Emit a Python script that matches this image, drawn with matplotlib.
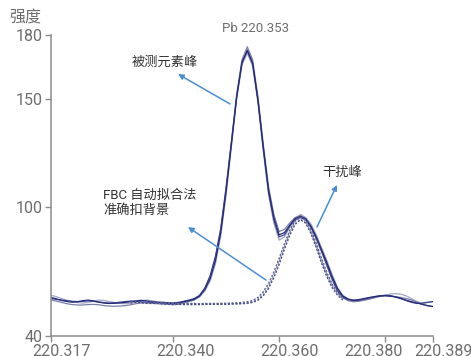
import numpy as np
import matplotlib.pyplot as plt
from matplotlib.transforms import ScaledTranslation

plt.rcParams['font.family'] = ['Roboto', 'Noto Sans CJK SC', 'DejaVu Sans']

# wavelength grid of the scans (nm), 0.001 step
wl_start, wl_step = 220.317, 0.001

# four repeat scans of the Pb 220.353 line
scan_a = [57.8, 57.2, 56.4, 55.9, 55.6, 55.8, 56.3, 56.6, 56.2, 55.6,
          55.2, 55.0, 55.1, 55.3, 55.5, 55.8, 56.2, 56.5, 56.2, 55.8,
          55.5, 55.3, 55.1, 55.0, 55.3, 55.8, 56.3, 57.0, 58.5, 61.5,
          66.5, 75.0, 88.0, 107.0, 129.0, 151.0, 167.0, 173.0, 167.0, 150.0,
          128.0, 108.0, 95.0, 87.0, 88.0, 91.5, 94.5, 95.5, 94.5, 91.0,
          86.0, 80.0, 74.0, 67.5, 62.0, 58.5, 57.0, 56.5, 56.8, 57.3,
          57.8, 58.2, 58.5, 58.6, 58.4, 58.0, 57.3, 56.5, 55.8, 55.2,
          54.6, 54.0, 53.6]
scan_b = [58.8, 58.2, 57.3, 56.5, 55.9, 55.4, 55.2, 55.5, 56.1, 56.6,
          56.4, 55.9, 55.4, 55.0, 54.9, 55.1, 55.6, 56.2, 56.6, 56.3,
          55.8, 55.4, 55.2, 55.1, 55.2, 55.5, 56.0, 56.8, 58.0, 60.8,
          65.5, 73.5, 86.5, 105.5, 128.0, 150.5, 166.0, 171.5, 165.5, 148.5,
          126.0, 105.5, 92.5, 84.5, 86.0, 90.5, 94.0, 96.5, 95.0, 92.0,
          87.0, 81.0, 75.0, 68.5, 62.5, 58.8, 57.2, 56.6, 56.4, 56.6,
          57.0, 57.6, 58.3, 58.9, 59.4, 59.6, 59.3, 58.5, 57.2, 55.9,
          55.0, 55.4, 55.8]
scan_c = [56.6, 56.1, 55.5, 54.9, 54.5, 54.3, 54.3, 54.5, 54.6, 54.4,
          54.0, 53.8, 53.7, 53.8, 54.0, 54.4, 54.9, 55.3, 55.3, 55.1,
          54.9, 54.7, 54.6, 54.4, 54.6, 55.2, 55.9, 56.6, 58.2, 61.8,
          67.5, 76.5, 89.5, 108.5, 130.5, 152.5, 168.5, 174.5, 168.5, 151.5,
          129.5, 109.5, 96.5, 88.5, 89.5, 92.5, 95.0, 96.0, 94.5, 90.5,
          85.0, 79.0, 72.5, 66.0, 60.8, 57.6, 56.3, 55.8, 56.0, 56.5,
          57.1, 57.8, 58.3, 58.6, 58.5, 58.2, 57.8, 57.3, 56.6, 55.6,
          54.6, 53.9, 53.5]
scan_d = [57.3, 56.9, 56.6, 56.3, 56.0, 55.9, 56.0, 56.2, 56.0, 55.7,
          55.4, 55.2, 55.3, 55.6, 55.9, 56.1, 56.0, 55.8, 55.6, 55.5,
          55.6, 55.6, 55.4, 55.2, 55.5, 56.0, 56.6, 57.3, 58.8, 62.3,
          68.0, 77.0, 90.0, 109.0, 130.0, 151.5, 167.5, 172.5, 166.5, 149.5,
          127.5, 107.0, 94.0, 86.0, 87.0, 91.0, 94.0, 95.0, 94.0, 90.5,
          85.5, 79.5, 73.0, 66.5, 61.0, 58.0, 56.8, 56.4, 56.5, 57.0,
          57.6, 58.2, 58.6, 58.8, 58.6, 58.0, 57.2, 56.3, 55.5, 55.0,
          55.2, 55.6, 55.9]

# fitted backgrounds (FBC) under the analyte line, 220.332 .. 220.372
bg_start = 220.332
bg_a = [55.8, 55.5, 55.6, 55.3, 55.2, 55.4, 55.2, 55.0, 54.9, 54.9,
        54.8, 54.8, 54.8, 54.8, 54.8, 54.8, 54.8, 54.8, 54.8, 54.9,
        55.0, 55.1, 55.3, 55.8, 57.0, 59.3, 63.0, 68.2, 74.5, 81.5,
        88.0, 92.8, 94.6, 93.0, 88.3, 81.8, 74.8, 68.4, 63.3, 59.6,
        57.2]
bg_b = [55.2, 55.6, 55.3, 55.5, 55.7, 55.3, 55.1, 55.3, 55.1, 55.0,
        55.1, 55.0, 55.0, 54.9, 55.0, 55.0, 55.0, 55.1, 55.1, 55.2,
        55.3, 55.5, 55.8, 56.4, 57.8, 60.4, 64.3, 69.6, 76.0, 82.8,
        89.0, 93.5, 95.3, 93.8, 89.4, 83.0, 76.0, 69.4, 64.0, 60.1,
        57.5]
bg_c = [56.0, 55.8, 55.4, 55.1, 55.0, 55.1, 54.9, 54.7, 54.6, 54.6,
        54.5, 54.5, 54.5, 54.5, 54.6, 54.6, 54.6, 54.6, 54.6, 54.7,
        54.8, 54.9, 55.1, 55.5, 56.5, 58.6, 62.0, 67.0, 73.2, 80.2,
        86.8, 91.8, 94.0, 92.4, 87.6, 81.0, 73.8, 67.4, 62.4, 58.9,
        56.6]

x_ticks = [220.317, 220.340, 220.360, 220.380, 220.389]
x_ticklabels = ['220.317', '220.340', '220.360', '220.380', '220.389']
y_ticks = [40, 100, 150, 180]

scan_colors = ['#a3a7c2', '#7c81a8', '#3f4690', '#262b78']
bg_colors = ['#8d91b3', '#5d6294', '#474d88']
arrow_color = '#4b8fd3'
grey = '#6e6e6e'

fig = plt.figure(figsize=(4.71, 3.56), dpi=100)
ax = fig.add_axes([0.1083, 0.057, 0.811, 0.8447])

for scan, col in zip([scan_b, scan_c, scan_d, scan_a], scan_colors):
    wl = wl_start + wl_step * np.arange(len(scan))
    ax.plot(wl, scan, color=col, lw=0.9)

for bg, col in zip([bg_a, bg_b, bg_c], bg_colors):
    wl = bg_start + wl_step * np.arange(len(bg))
    ax.plot(wl, bg, color=col, lw=1.0, ls=(0, (1.5, 1.2)))

ax.set_xlim(220.317, 220.389)
ax.set_ylim(40, 180)
ax.set_xticks(x_ticks)
ax.set_xticklabels(x_ticklabels)
ax.set_yticks(y_ticks)

for side in ['top', 'right']:
    ax.spines[side].set_visible(False)
for side in ['left', 'bottom']:
    ax.spines[side].set_color('#8c8c8c')
    ax.spines[side].set_linewidth(1.1)
ax.tick_params(axis='both', colors='#8c8c8c', labelcolor=grey,
               labelsize=11.5, length=4, width=1.0, pad=2)

# nudge the x labels sideways so the last two don't collide
label_shift_px = [10, 12, 10, -12, 10]
for lbl, dx in zip(ax.get_xticklabels(), label_shift_px):
    lbl.set_transform(lbl.get_transform() +
                      ScaledTranslation(dx / 100, 0, fig.dpi_scale_trans))

fig.text(255 / 471, 1 - 28 / 356, 'Pb 220.353', ha='center', va='center',
         fontsize=9.5, color=grey)
fig.text(25 / 471, 1 - 18 / 356, '强度', ha='center', va='center',
         fontsize=11.5, color=grey)

# callouts
arrow = dict(arrowstyle='-|>', color=arrow_color, lw=1.1,
             mutation_scale=8, shrinkA=0, shrinkB=0)
ax.annotate('', xy=(220.34094, 161.8), xytext=(220.35074, 147.9),
            arrowprops=arrow)
ax.annotate('', xy=(220.34282, 90.6), xytext=(220.35752, 65.9),
            arrowprops=arrow)
ax.annotate('', xy=(220.3709, 110.2), xytext=(220.36713, 90.6),
            arrowprops=arrow)

ax.text(220.33849, 167.4, '被测元素峰', ha='center', va='center',
        fontsize=9.5, color='#333333')
ax.text(220.3268, 101.8, 'FBC 自动拟合法\n准确扣背景', ha='left', va='center',
        fontsize=9.5, color='#333333', linespacing=1.25)
ax.text(220.37185, 116.2, '干扰峰', ha='center', va='center',
        fontsize=9.5, color='#333333')

fig.savefig('out.png', dpi=100)
